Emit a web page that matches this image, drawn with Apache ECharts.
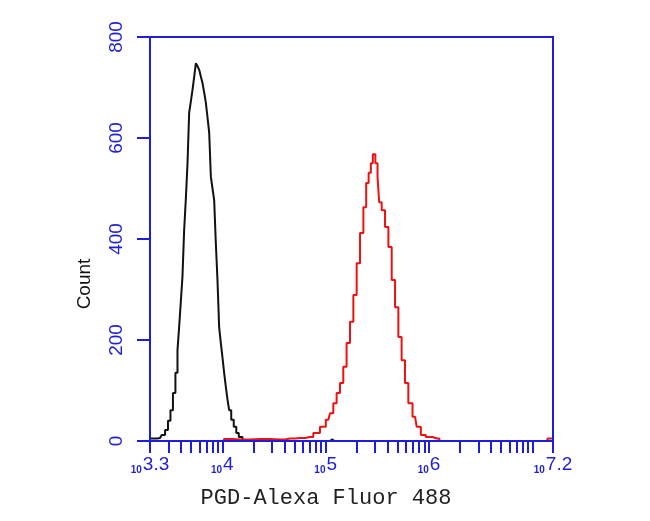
<!DOCTYPE html>
<html>
<head>
<meta charset="utf-8">
<script src="https://cdn.jsdelivr.net/npm/echarts@6/dist/echarts.min.js"></script>
<style>html,body{margin:0;padding:0;background:#fff;}#c{width:650px;height:521px;}</style>
</head>
<body>
<div id="c"></div>
<script>
// x values are log10 of fluorescence intensity
var blackX = [3.300,3.348,3.397,3.430,3.462,3.486,3.510,3.534,3.558,3.574,3.590,3.606,3.622,3.639,3.655,3.671,3.687,3.703,3.719,3.735,3.752,3.768,3.784,3.800,3.816,3.833,3.849,3.865,3.881,3.897,3.913,3.929,3.945,3.961,3.977,3.993,4.009,4.026,4.042,4.058,4.074,4.098,4.123,4.147,4.171,4.219,4.268,5.040,5.050,5.080,5.090,7.200];
var blackY = [5,5,6,12,22,40,61,95,135,180,226,275,325,418,480,550,650,672,695,720,748,742,735,722,709,690,669,640,610,523,500,477,392,319,226,195,166,135,107,82,61,42,28,16,8,2,0,0,3,3,0,0];
var redX = [3.300,4.010,4.026,4.171,4.365,4.558,4.655,4.752,4.848,4.913,4.977,5.026,5.058,5.090,5.122,5.155,5.186,5.219,5.252,5.284,5.316,5.349,5.381,5.403,5.429,5.445,5.468,5.494,5.510,5.526,5.558,5.591,5.623,5.655,5.688,5.719,5.751,5.784,5.816,5.865,5.897,5.945,5.993,6.075,6.126,7.140,7.160,7.200];
var redY = [0,0,4,3,4,3,5,6,8,16,28,42,55,75,95,115,147,194,236,289,352,412,463,511,531,550,568,550,523,473,457,424,384,319,265,206,160,115,75,48,28,12,8,5,0,0,5,5];
var yTicks = [0,200,400,600,800];
var xLabelValues = [3.3,4,5,6,7.2];
var xLabelTexts = ['3.3','4','5','6','7.2'];

var minorTicks = [];
(function(){
  for (var e = 3; e <= 7; e++) {
    for (var k = 1; k <= 9; k++) {
      var v = Math.log10(k * Math.pow(10, e));
      if (v >= 3.299 && v <= 7.2) minorTicks.push(v);
    }
  }
  minorTicks.push(7.2);
})();

function pairs(xs, ys){ return xs.map(function(x,i){ return [x, ys[i]]; }); }

var blue = '#1e1ed8';
var chart = echarts.init(document.getElementById('c'), null, {renderer:'canvas'});
chart.setOption({
  animation: false,
  backgroundColor: '#ffffff',
  grid: { left: 150, top: 37, right: 97, bottom: 80, show: true, borderColor: blue, borderWidth: 2, z: 5 },
  xAxis: {
    type: 'value', min: 3.3, max: 7.2, z: 6,
    axisLine: { show: true, onZero: false, lineStyle: { color: blue, width: 2 } },
    axisTick: { show: true, length: 12, customValues: minorTicks, lineStyle: { color: blue, width: 2 } },
    axisLabel: {
      customValues: xLabelValues, margin: 14,
      formatter: function(v){
        var i = xLabelValues.findIndex(function(t){ return Math.abs(t - v) < 1e-6; });
        return '{s|10}{b|' + (i >= 0 ? xLabelTexts[i] : v) + '}';
      },
      rich: {
        s: { fontSize: 10, fontWeight: 'bold', color: blue, fontFamily: 'Liberation Sans', verticalAlign: 'bottom', padding: [10,1,0,0] },
        b: { fontSize: 19, color: blue, fontFamily: 'Liberation Sans' }
      }
    },
    splitLine: { show: false }
  },
  yAxis: {
    type: 'value', min: 0, max: 800, interval: 200, z: 6,
    axisLine: { show: true, lineStyle: { color: blue, width: 2 } },
    axisTick: { show: true, length: 13, lineStyle: { color: blue, width: 2 } },
    axisLabel: { rotate: 90, color: blue, fontSize: 19, fontFamily: 'Liberation Sans', margin: 24,
      formatter: function(v){ return yTicks.indexOf(v) >= 0 ? String(v) : ''; } },
    splitLine: { show: false }
  },
  graphic: [
    { type: 'text', x: 85, y: 284, rotation: Math.PI/2, style: { text: 'Count', fill: '#111', font: '19px "Liberation Sans"', textAlign: 'center', textVerticalAlign: 'middle' } },
    { type: 'text', x: 326, y: 498, style: { text: 'PGD-Alexa Fluor 488', fill: '#222', font: '22px "Liberation Mono"', textAlign: 'center', textVerticalAlign: 'middle' } }
  ],
  series: [
    { type: 'line', data: pairs(blackX, blackY), step: 'middle', showSymbol: false, z: 2,
      lineStyle: { color: '#111111', width: 2 } },
    { type: 'line', data: pairs(redX, redY), step: 'middle', showSymbol: false, z: 3,
      lineStyle: { color: '#ee1111', width: 2 } }
  ]
});
</script>
</body>
</html>
